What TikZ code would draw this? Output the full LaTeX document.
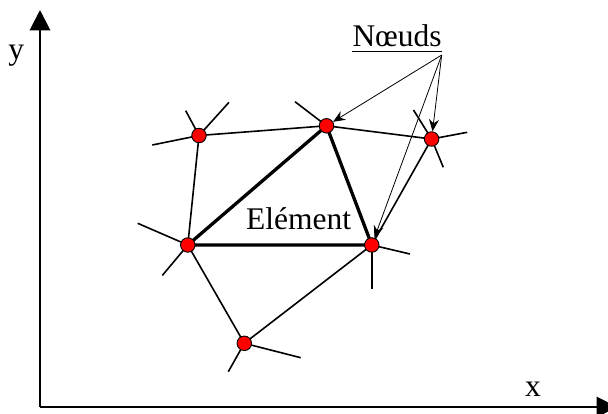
\documentclass[tikz,border=0pt]{standalone}
\usepackage{fontspec}
\setmainfont{Liberation Serif}
\usetikzlibrary{arrows.meta,backgrounds}
\begin{document}
\begin{tikzpicture}[x=1pt,y=-1pt,
  pt/.style={circle,draw=black,line width=0.9pt,fill=red,minimum size=14.5pt,inner sep=0pt},
  edge/.style={line width=1.6pt},
  elem/.style={line width=3.3pt},
  stub/.style={line width=1.6pt},
  pointer/.style={line width=0.8pt,-{Stealth[length=12pt,width=10pt,inset=4pt]}},
  axis/.style={line width=2pt,-{Triangle[length=20.5pt,width=20.5pt]}},
  lbl/.style={inner sep=0pt,font=\fontsize{31.5}{36}\selectfont}]
\useasboundingbox (0,0) rectangle (608,414);
% axes
\coordinate (O) at (40,407);
\coordinate (Ytip) at (40,10);
\coordinate (Xtip) at (617,407);
\draw[axis] (O) -- (Ytip);
\draw[axis] (O) -- (Xtip);
\node[lbl,anchor=base west] (ylab) at (8.3,59.5) {y};
\node[lbl,anchor=base west] (xlab) at (525,396.7) {x};
% mesh nodes
\node[pt] (A) at (199,135.5) {};
\node[pt] (B) at (326.5,125.8) {};
\node[pt] (C) at (431.6,139) {};
\node[pt] (D) at (187.8,245) {};
\node[pt] (E) at (371.8,245) {};
\node[pt] (F) at (244.3,343.3) {};
% free ends of stubs
\coordinate (A1) at (152.3,145);
\coordinate (A2) at (185.7,110.7);
\coordinate (A3) at (229,102.3);
\coordinate (B1) at (295,101.7);
\coordinate (C1) at (413.5,110);
\coordinate (C2) at (467.3,132.3);
\coordinate (C3) at (443.3,167.3);
\coordinate (D1) at (137.7,223.3);
\coordinate (D2) at (162.3,275.5);
\coordinate (E1) at (410,254);
\coordinate (E2) at (371.8,289);
\coordinate (F1) at (300.7,357.7);
\coordinate (F2) at (228.3,371.7);
\begin{scope}[on background layer]
  \draw[edge] (A.center) -- (B.center) -- (C.center);
  \draw[edge] (A.center) -- (D.center) -- (F.center) -- (E.center) -- (C.center);
  \draw[elem,line join=round] (D.center) -- (B.center) -- (E.center) -- cycle;
  \foreach \s in {A1,A2,A3} \draw[stub] (A.center) -- (\s);
  \draw[stub] (B.center) -- (B1);
  \foreach \s in {C1,C2,C3} \draw[stub] (C.center) -- (\s);
  \foreach \s in {D1,D2} \draw[stub] (D.center) -- (\s);
  \foreach \s in {E1,E2} \draw[stub] (E.center) -- (\s);
  \foreach \s in {F1,F2} \draw[stub] (F.center) -- (\s);
\end{scope}
% labels
\node[lbl,anchor=base west] (elt) at (246,230) {Elément};
\node[lbl,anchor=base west] (nds) at (352.3,46.7) {Nœuds};
\draw[line width=1.5pt] ([yshift=-5pt]nds.base west) -- ([yshift=-5pt]nds.base east);
\coordinate (P) at (441.7,55);
\draw[pointer] (P) -- (B);
\draw[pointer] (P) -- (C);
\draw[pointer] (P) -- (E);
\end{tikzpicture}
\end{document}
